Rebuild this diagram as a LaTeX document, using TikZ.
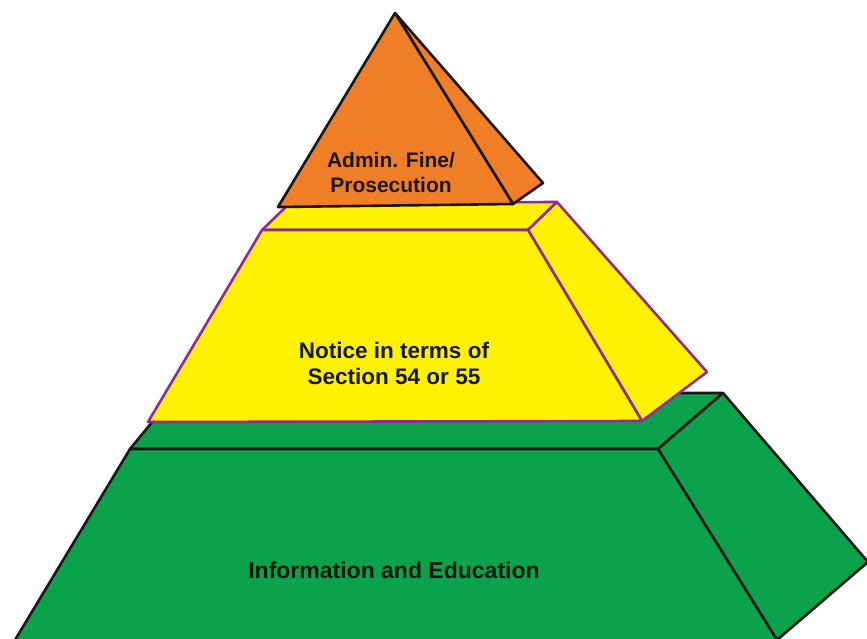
\documentclass[tikz,border=0pt]{standalone}
\usepackage{fontspec}
\setmainfont{Liberation Sans}
\usepackage{xcolor}
\usepackage{tikz}
\definecolor{tiporange}{HTML}{F07E26}
\definecolor{midyellow}{HTML}{FFF200}
\definecolor{basegreen}{HTML}{0BA24C}
\definecolor{rimpurple}{HTML}{912A9C}

\begin{document}
\begin{tikzpicture}[x=1pt, y=-1pt, line join=round,
  greenface/.style={fill=basegreen, draw=black!90, line width=2.6pt},
  yellowface/.style={fill=midyellow, draw=rimpurple, line width=2.6pt},
  orangeface/.style={fill=tiporange, draw=black!90, line width=2.6pt},
  tierlabel/.style={font=\fontsize{21}{25}\selectfont\bfseries, align=center, inner sep=0, text=black!90}]
\useasboundingbox (0,0) rectangle (867,639);
\begin{scope}
\clip (0,0) rectangle (867,639);
% base tier
\draw[greenface] (130,449) -- (176,393) -- (723,393) -- (658,449) -- cycle;
\draw[greenface] (658,449) -- (723,393) -- (868,562) -- (777,640) -- cycle;
\draw[greenface] (15,640) -- (130,449) -- (658,449) -- (777,640);
\end{scope}
% middle tier
\draw[yellowface] (262,230) -- (290,203) -- (557,202) -- (528,230) -- cycle;
\draw[yellowface] (528,230) -- (557,202) -- (707,372) -- (642,421) -- cycle;
\draw[yellowface] (148,422) -- (262,230) -- (528,230) -- (642,421) -- cycle;
% top tier
\draw[orangeface] (395,13) -- (543,183) -- (513,204) -- cycle;
\draw[orangeface] (395,13) -- (513,204) -- (278,207) -- cycle;
\node[tierlabel] (fine) at (391,172) {Admin. Fine/\\Prosecution};
\node[tierlabel, font=\fontsize{22.5}{26}\selectfont\bfseries] (notice) at (394,363) {Notice in terms of\\Section 54 or 55};
\node[tierlabel, font=\fontsize{23}{26}\selectfont\bfseries, text=black!85!basegreen] (info) at (394,570) {Information and Education};
\end{tikzpicture}
\end{document}
